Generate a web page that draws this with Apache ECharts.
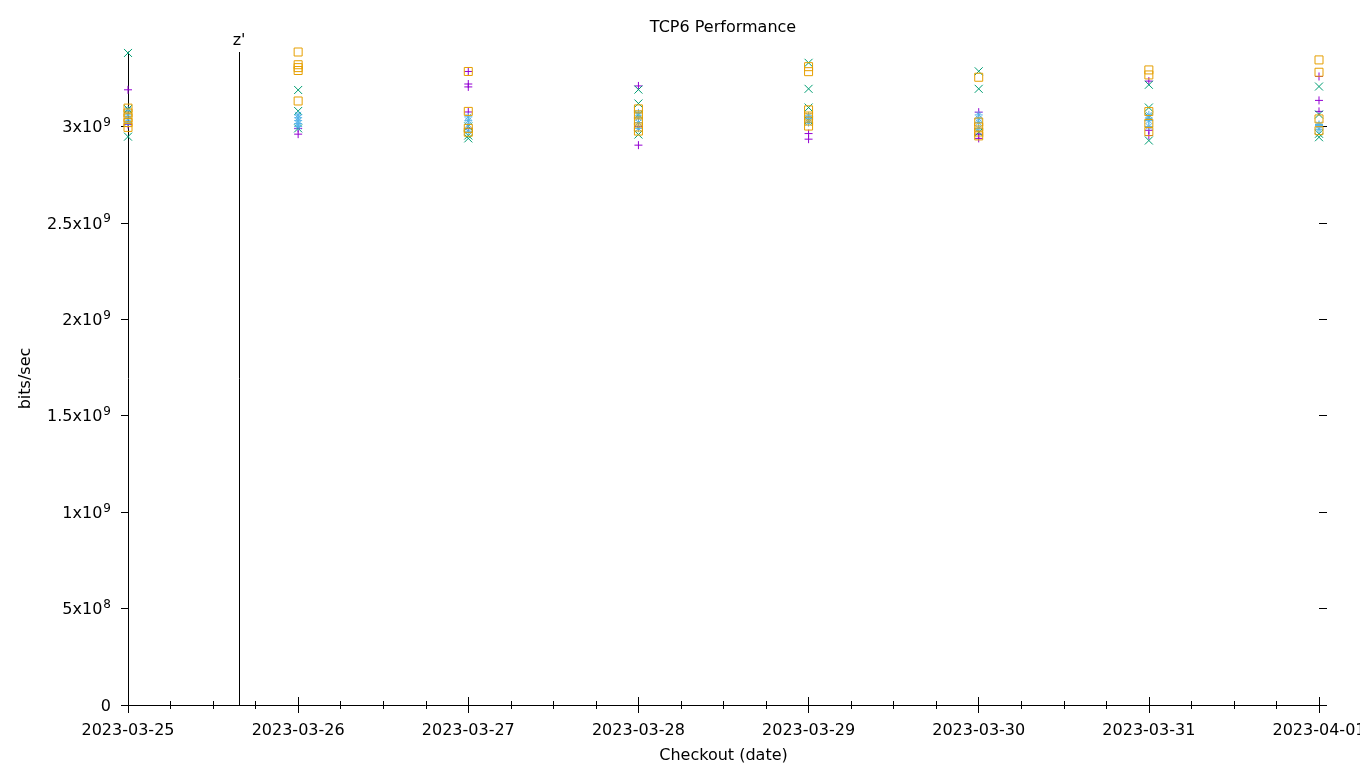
<!DOCTYPE html>
<html>
<head>
<meta charset="utf-8">
<script src="https://cdn.jsdelivr.net/npm/echarts@6/dist/echarts.min.js"></script>
<style>
html,body{margin:0;padding:0;background:#fff;overflow:hidden;}
#chart{width:100vw;height:100vh;}
</style>
</head>
<body>
<div id="chart"></div>
<script>
// ---------- data ----------
const titleText = 'TCP6 Performance';
const xAxisTitle = 'Checkout (date)';
const yAxisTitle = 'bits/sec';
const dates = ['2023-03-25','2023-03-26','2023-03-27','2023-03-28','2023-03-29','2023-03-30','2023-03-31','2023-04-01'];
const yTickValues = [0, 5e8, 1e9, 1.5e9, 2e9, 2.5e9, 3e9];
const yMax = 3.386e9;
const markerTime = '2023-03-25T15:40:00Z';
const markerLabel = "z'";

// values per date (one inner list per entry of `dates`)
const purplePlus = [
  [3.19e9, 3.01e9],
  [2.99e9, 2.96e9],
  [3.285e9, 3.22e9, 3.205e9, 3.075e9, 2.99e9],
  [3.21e9, 3.00e9, 2.903e9],
  [2.963e9, 2.934e9],
  [3.074e9, 2.96e9, 2.938e9],
  [3.235e9, 2.98e9, 2.953e9],
  [3.259e9, 3.135e9, 3.078e9]
];
const greenCross = [
  [3.381e9, 3.09e9, 2.947e9],
  [3.189e9, 3.08e9, 2.99e9],
  [3.00e9, 2.953e9, 2.938e9],
  [3.191e9, 3.119e9, 3.06e9, 2.958e9],
  [3.33e9, 3.195e9, 3.098e9, 3.03e9],
  [3.286e9, 3.195e9, 2.97e9],
  [3.216e9, 3.098e9, 3.05e9, 2.927e9],
  [3.207e9, 3.062e9, 2.962e9, 2.944e9]
];
const blueStar = [
  [3.085e9, 3.06e9, 3.04e9, 3.02e9],
  [3.06e9, 3.045e9, 3.03e9, 3.015e9, 3.00e9],
  [3.05e9, 3.03e9, 3.01e9, 2.975e9],
  [3.07e9, 3.045e9, 3.02e9, 2.99e9],
  [3.055e9, 3.04e9, 3.02e9],
  [3.06e9, 3.04e9, 3.02e9, 2.99e9],
  [3.06e9, 3.043e9, 3.03e9, 3.00e9],
  [3.01e9, 3.005e9, 2.985e9]
];
const orangeSquare = [
  [3.095e9, 3.07e9, 3.045e9, 3.02e9, 2.995e9],
  [3.386e9, 3.32e9, 3.305e9, 3.29e9, 3.132e9],
  [3.285e9, 3.078e9, 2.99e9, 2.97e9],
  [3.091e9, 3.06e9, 3.028e9, 2.997e9, 2.976e9],
  [3.31e9, 3.284e9, 3.086e9, 3.054e9, 3.028e9, 3.002e9],
  [3.255e9, 3.023e9, 2.997e9, 2.971e9, 2.951e9],
  [3.293e9, 3.267e9, 3.077e9, 3.016e9, 2.973e9],
  [3.345e9, 3.281e9, 3.039e9, 2.978e9]
];

// ---------- helpers ----------
const DAY = 86400000;
const dateMs = dates.map(d => Date.parse(d + 'T00:00:00Z'));
function toPoints(lists) {
  const out = [];
  lists.forEach((vals, i) => vals.forEach(v => out.push([dateMs[i], v])));
  return out;
}
function fmtDate(ms) {
  const d = new Date(ms);
  const p = n => String(n).padStart(2, '0');
  return d.getUTCFullYear() + '-' + p(d.getUTCMonth() + 1) + '-' + p(d.getUTCDate());
}
function fmtY(v) {
  if (v === 0) return '{b|0}';
  const e = Math.floor(Math.log10(v) + 1e-9);
  const m = Math.round(v / Math.pow(10, e) * 100) / 100;
  return '{b|' + m + 'x10}{s|' + e + '}';
}

const FONT = 'DejaVu Sans';
const FS = 16;
const plusPath = 'path://M0,4L8,4M4,0L4,8';
const crossPath = 'path://M0,0L8,8M0,8L8,0';
const starPath = 'path://M0,4L8,4M4,0L4,8M1,1L7,7M1,7L7,1';

function scatter(name, lists, symbol, color) {
  return {
    name: name,
    type: 'scatter',
    data: toPoints(lists),
    symbol: symbol,
    symbolSize: 8,
    silent: true,
    itemStyle: { color: 'rgba(0,0,0,0)', borderColor: color, borderWidth: 1, opacity: 1 },
    emphasis: { disabled: true }
  };
}

const chart = echarts.init(document.getElementById('chart'), null, { renderer: 'canvas' });
const xBase = {
  type: 'value', min: dateMs[0], max: dateMs[dateMs.length - 1], interval: DAY,
  splitLine: { show: false },
  minorTick: { show: true, splitNumber: 4, length: 4, lineStyle: { color: '#000', width: 1 } }
};
const option = {
  animation: false,
  backgroundColor: '#fff',
  textStyle: { fontFamily: FONT },
  title: {
    text: titleText, left: 718, textAlign: 'center', top: 15,
    textStyle: { fontFamily: FONT, fontSize: FS, fontWeight: 'normal', color: '#000' }
  },
  grid: { left: 128, top: 52, width: 1191, height: 653, show: false, containLabel: false, outerBoundsMode: 'none' },
  xAxis: [
    Object.assign({}, xBase, {
      position: 'bottom',
      name: xAxisTitle, nameLocation: 'middle', nameGap: 43,
      nameTextStyle: { fontFamily: FONT, fontSize: FS, color: '#000' },
      axisLine: { show: true, lineStyle: { color: '#000', width: 1 } },
      axisTick: { show: true, inside: false, length: 8, lineStyle: { color: '#000' } },
      axisLabel: { show: true, margin: 18, formatter: fmtDate, fontFamily: FONT, fontSize: FS, color: '#000',
                   showMinLabel: true, showMaxLabel: true, hideOverlap: false }
    }),
    Object.assign({}, xBase, {
      position: 'top',
      axisLine: { show: false },
      axisTick: { show: true, inside: false, length: 8, lineStyle: { color: '#000' } },
      axisLabel: { show: false }
    })
  ],
  yAxis: [
    {
      type: 'value', min: 0, max: yMax, position: 'left',
      name: yAxisTitle, nameLocation: 'middle', nameGap: 94, nameRotate: 90,
      nameTextStyle: { fontFamily: FONT, fontSize: FS, color: '#000' },
      splitLine: { show: false },
      axisLine: { show: true, lineStyle: { color: '#000', width: 1 } },
      axisTick: { show: true, inside: false, length: 7, customValues: yTickValues, lineStyle: { color: '#000' } },
      axisLabel: {
        show: true, margin: 17, customValues: yTickValues, formatter: fmtY, color: '#000',
        rich: {
          b: { fontFamily: FONT, fontSize: FS, color: '#000', lineHeight: 19, verticalAlign: 'bottom' },
          s: { fontFamily: FONT, fontSize: 12, color: '#000', lineHeight: 19, verticalAlign: 'top', padding: [0, 0, 6, 1] }
        }
      }
    },
    {
      type: 'value', min: 0, max: yMax, position: 'right',
      splitLine: { show: false },
      axisLine: { show: false },
      axisTick: { show: true, inside: false, length: 8, customValues: yTickValues, lineStyle: { color: '#000' } },
      axisLabel: { show: false, customValues: yTickValues }
    }
  ],
  series: [
    Object.assign(scatter('s1', purplePlus, plusPath, '#9400D3'), {
      markLine: {
        silent: true, symbol: ['none', 'none'], animation: false,
        lineStyle: { color: '#000', width: 1, type: 'solid' },
        label: { show: true, position: 'end', formatter: markerLabel, fontFamily: FONT, fontSize: FS, color: '#000', distance: 3 },
        data: [{ xAxis: Date.parse(markerTime) }]
      }
    }),
    scatter('s2', greenCross, crossPath, '#009E73'),
    scatter('s3', blueStar, starPath, '#56B4E9'),
    scatter('s4', orangeSquare, 'rect', '#E69F00')
  ]
};
chart.setOption(option);
window.addEventListener('resize', () => chart.resize());
</script>
</body>
</html>
